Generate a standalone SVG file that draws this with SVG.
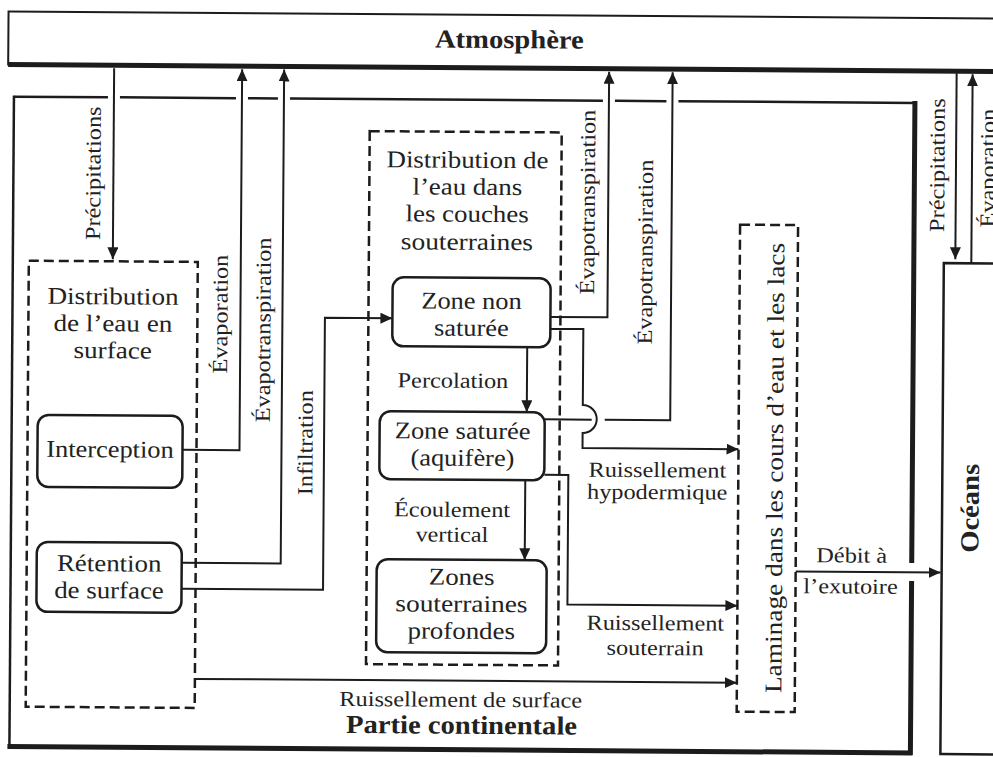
<svg xmlns="http://www.w3.org/2000/svg" width="993" height="757" viewBox="0 0 993 757">
<style>
text{font-family:"Liberation Serif","Times New Roman",serif;fill:#222;text-anchor:middle}
.box{font-size:24px}
.lbl{font-size:21.5px}
.rot{font-size:21.5px;dominant-baseline:central}
.bold{font-weight:bold;font-size:26px}
.frame{fill:none;stroke:#1c1c1c;stroke-width:2.5}
.thick{fill:none;stroke:#1c1c1c;stroke-width:5}
.node{fill:#fff;stroke:#1c1c1c;stroke-width:2.5}
.dash{fill:none;stroke:#1c1c1c;stroke-width:2.5;stroke-dasharray:10 5}
.c{fill:none;stroke:#1c1c1c;stroke-width:2}
.arr{marker-end:url(#ah)}
</style>
<defs>
<marker id="ah" markerUnits="userSpaceOnUse" markerWidth="13" markerHeight="12" refX="12" refY="5.5" orient="auto">
<path d="M0,0 L12,5.5 L0,11 z" fill="#1c1c1c"/>
</marker>
</defs>
<rect width="993" height="757" fill="#fff"/>
<g transform="rotate(0.4 496 378)">

<g id="atmosphere">
<rect x="6" y="15" width="1000" height="53" fill="#fff" stroke="#1c1c1c" stroke-width="2"/>
<path class="thick" d="M6,68 H1006"/>
<text class="bold" transform="translate(507 48) scale(1.1 1)">Atmosphère</text>
</g>

<g id="partie-continentale">
<path class="frame" d="M12,99 V750"/>
<path class="frame" d="M12,100 H106 M118,100 H234 M246,100 H276 M288,100 H601 M613,100 H664.5 M676.5,100 H913"/>
<path class="thick" d="M913,98 V560 M913,578 V752 M10,750 H915"/>
<text class="bold" transform="translate(464 734) scale(1.1 1)">Partie continentale</text>
</g>

<g id="oceans">
<rect class="frame" x="943" y="260" width="80" height="491"/>
<text class="bold" dominant-baseline="central" transform="translate(971 505) rotate(-90) scale(1.1 1)">Océans</text>
</g>

<g id="distribution-surface">
<rect class="dash" x="28" y="264" width="169" height="446"/>
<text class="box" transform="translate(112.5 307) scale(1.13 1)">Distribution</text>
<text class="box" transform="translate(112.5 334) scale(1.13 1)">de l’eau en</text>
<text class="box" transform="translate(112.5 361) scale(1.13 1)">surface</text>
</g>

<g id="interception">
<rect class="node" x="38" y="418" width="145" height="72" rx="11"/>
<text class="box" transform="translate(110.5 460) scale(1.1 1)">Interception</text>
</g>

<g id="retention">
<rect class="node" x="38" y="545" width="145" height="70" rx="11"/>
<text class="box" transform="translate(110.5 574) scale(1.12 1)">Rétention</text>
<text class="box" transform="translate(110.5 601) scale(1.12 1)">de surface</text>
</g>

<g id="distribution-souterraine">
<rect class="dash" x="368" y="132" width="192" height="533"/>
<text class="box" transform="translate(466 168) scale(1.12 1)">Distribution de</text>
<text class="box" transform="translate(466 195) scale(1.12 1)">l’eau dans</text>
<text class="box" transform="translate(466 222) scale(1.12 1)">les couches</text>
<text class="box" transform="translate(466 250) scale(1.14 1)">souterraines</text>
</g>

<g id="zone-non-saturee">
<rect class="node" x="392" y="278" width="158" height="69" rx="11"/>
<text class="box" transform="translate(471 309) scale(1.1 1)">Zone non</text>
<text class="box" transform="translate(471 336) scale(1.1 1)">saturée</text>
</g>

<g id="zone-saturee">
<rect class="node" x="380" y="412" width="165" height="68" rx="11"/>
<text class="box" transform="translate(463 439) scale(1.1 1)">Zone saturée</text>
<text class="box" transform="translate(463 466) scale(1.1 1)">(aquifère)</text>
</g>

<g id="zones-profondes">
<rect class="node" x="378" y="560" width="170" height="93" rx="11"/>
<text class="box" transform="translate(463 585) scale(1.12 1)">Zones</text>
<text class="box" transform="translate(463 612) scale(1.14 1)">souterraines</text>
<text class="box" transform="translate(463 639) scale(1.12 1)">profondes</text>
</g>

<g id="laminage">
<rect class="dash" x="739" y="223" width="58" height="487"/>
<text class="box" dominant-baseline="central" transform="translate(775.5 466) rotate(-90) scale(1.14 1)">Laminage dans les cours d’eau et les lacs</text>
</g>

<g id="connectors">
<path class="c arr" d="M112,71 V262"/>
<path class="c arr" d="M183,452 H240 V71"/>
<path class="c arr" d="M183,565 H282 V71"/>
<path class="c arr" d="M183,591 H324.5 V319 H392"/>
<path class="c arr" d="M197,681 H739"/>
<path class="c arr" d="M550,316.5 H607 V71"/>
<path class="c arr" d="M550,328.5 H583 V404.5 A14,14 0 0 1 583,432.5 V447.5 H739"/>
<path class="c arr" d="M527,347 V412"/>
<path class="c" d="M545,419 H592"/>
<path class="c arr" d="M605,419 H670.5 V71"/>
<path class="c arr" d="M526,480 V560"/>
<path class="c arr" d="M545,474.5 H569 V604 H739"/>
<path class="c arr" d="M797,569.5 H942"/>
<path class="c arr" d="M954.5,70 V256"/>
<path class="c arr" d="M970.5,260 V71"/>
</g>

<g id="labels">
<text class="rot" transform="translate(92 176) rotate(-90) scale(1.13 1)">Précipitations</text>
<text class="rot" transform="translate(220 316) rotate(-90) scale(1.13 1)">Évaporation</text>
<text class="rot" transform="translate(263 331.5) rotate(-90) scale(1.13 1)">Évapotranspiration</text>
<text class="rot" transform="translate(306 444) rotate(-90) scale(1.13 1)">Infiltration</text>
<text class="rot" transform="translate(586.5 201.5) rotate(-90) scale(1.13 1)">Évapotranspiration</text>
<text class="rot" transform="translate(644.5 251) rotate(-90) scale(1.13 1)">Évapotranspiration</text>
<text class="rot" transform="translate(936 162) rotate(-90) scale(1.13 1)">Précipitations</text>
<text class="rot" style="text-anchor:start" transform="translate(986.5 224) rotate(-90) scale(1.13 1)">Évaporation</text>
<text class="lbl" transform="translate(453 388) scale(1.13 1)">Percolation</text>
<text class="lbl" transform="translate(453 517) scale(1.13 1)">Écoulement</text>
<text class="lbl" transform="translate(453 542) scale(1.13 1)">vertical</text>
<text class="lbl" transform="translate(658 476) scale(1.13 1)">Ruissellement</text>
<text class="lbl" transform="translate(658 498) scale(1.13 1)">hypodermique</text>
<text class="lbl" transform="translate(657 629) scale(1.13 1)">Ruissellement</text>
<text class="lbl" transform="translate(657 654) scale(1.13 1)">souterrain</text>
<text class="lbl" transform="translate(463 707) scale(1.13 1)">Ruissellement de surface</text>
<text class="lbl" transform="translate(853 560) scale(1.13 1)">Débit à</text>
<text class="lbl" transform="translate(852 591) scale(1.13 1)">l’exutoire</text>
</g>
</g>
</svg>
